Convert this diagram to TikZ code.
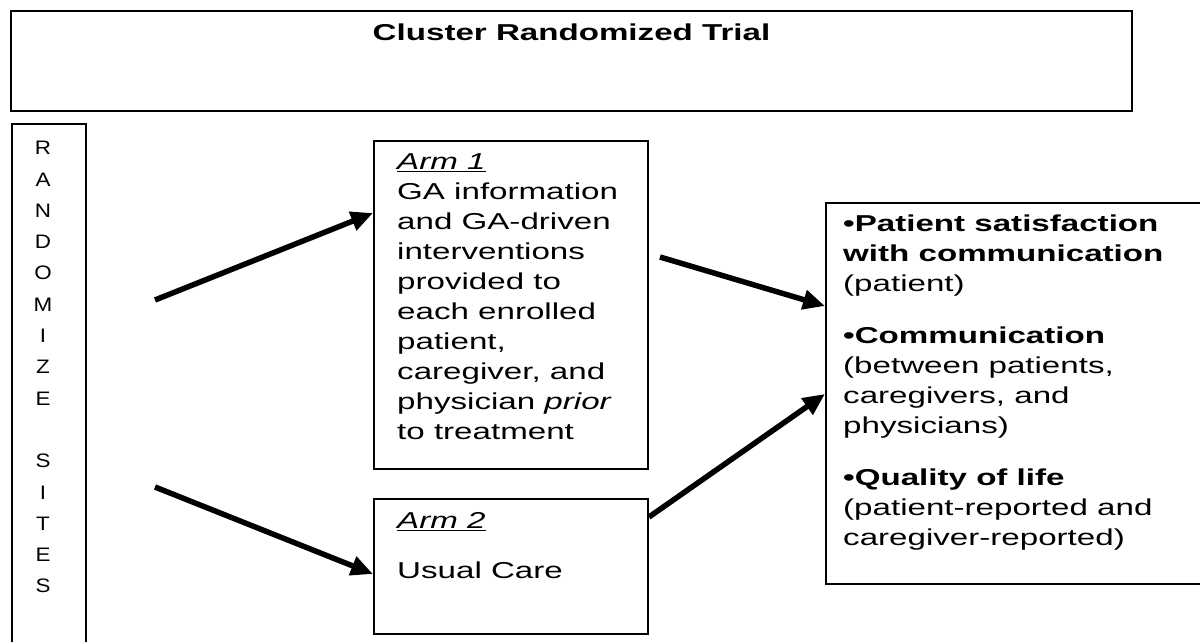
\documentclass[tikz,border=0pt]{standalone}
\usepackage{fontspec}
\setmainfont{Liberation Sans}[FakeStretch=1.44]
\newfontfamily\sitesfont{Liberation Sans}[FakeStretch=1.15]
\usetikzlibrary{arrows.meta}
\newcommand{\armlbl}[1]{\setbox0\hbox{\textit{#1}}\rlap{\rule[-3pt]{\wd0}{1.5pt}}\box0}
\begin{document}
\begin{tikzpicture}[x=1pt, y=-1pt, every node/.style={inner sep=0pt}]

    \tikzstyle{box}=[draw, line width=2pt, rectangle, anchor=north west]
    \tikzstyle{txt}=[anchor=north west, align=left, font=\fontsize{23}{30}\selectfont]
    \tikzstyle{letter}=[font=\sitesfont\fontsize{19.5}{22}\selectfont]
    \tikzstyle{arr}=[line width=5.5pt, -{Triangle[length=22pt, width=19pt]}]

    \useasboundingbox (0,0) rectangle (1200,642);

    % boxes
    \node[box, minimum width=1121pt, minimum height=100pt] (trial) at (10,10) {};
    \node[box, minimum width=74pt, minimum height=600pt] (sites) at (11,123) {};
    \node[box, minimum width=274pt, minimum height=328pt] (arm1) at (373,140) {};
    \node[box, minimum width=274pt, minimum height=135pt] (arm2) at (373,498) {};
    \node[box, minimum width=440pt, minimum height=381pt] (outc) at (825,202) {};

    \node[anchor=base, font=\bfseries\fontsize{23}{30}\selectfont] (title) at ([yshift=-31pt]trial.north) {Cluster Randomized Trial};

    \foreach \l/\k in {R/0, A/1, N/2, D/3, O/4, M/5, I/6, Z/7, E/8, S/10, I/11, T/12, E/13, S/14} {
        \node[letter] (l\k) at (43, 148+31.3*\k) {\l};
    }

    \node[txt] (arm1txt) at (397,153) {\armlbl{Arm 1}\\
        GA information\\ and GA-driven\\ interventions\\ provided to\\ each enrolled\\
        patient,\\ caregiver, and\\ physician \textit{prior}\\ to treatment};
    \node[txt] (arm2txt) at (397,512) {\armlbl{Arm 2}\\[20pt] Usual Care};
    \node[txt] (outctxt) at (843,215) {\textbf{•Patient satisfaction}\\ \textbf{with communication}\\
        (patient)\\[22pt] \textbf{•Communication}\\ (between patients,\\ caregivers, and\\
        physicians)\\[22pt] \textbf{•Quality of life}\\ (patient-reported and\\ caregiver-reported)};

    % arrows
    \coordinate (a1) at (155,300);
    \coordinate (a2) at (155,487);
    \coordinate (a3) at (660,257);
    \draw[arr] (a1) -- ([yshift=-73pt]arm1.north west);
    \draw[arr] (a2) -- ([yshift=-76pt]arm2.north west);
    \draw[arr] (a3) -- ([yshift=-104pt]outc.north west);
    \draw[arr] ([yshift=-19pt]arm2.north east) -- ([yshift=-192pt]outc.north west);

\end{tikzpicture}
\end{document}
